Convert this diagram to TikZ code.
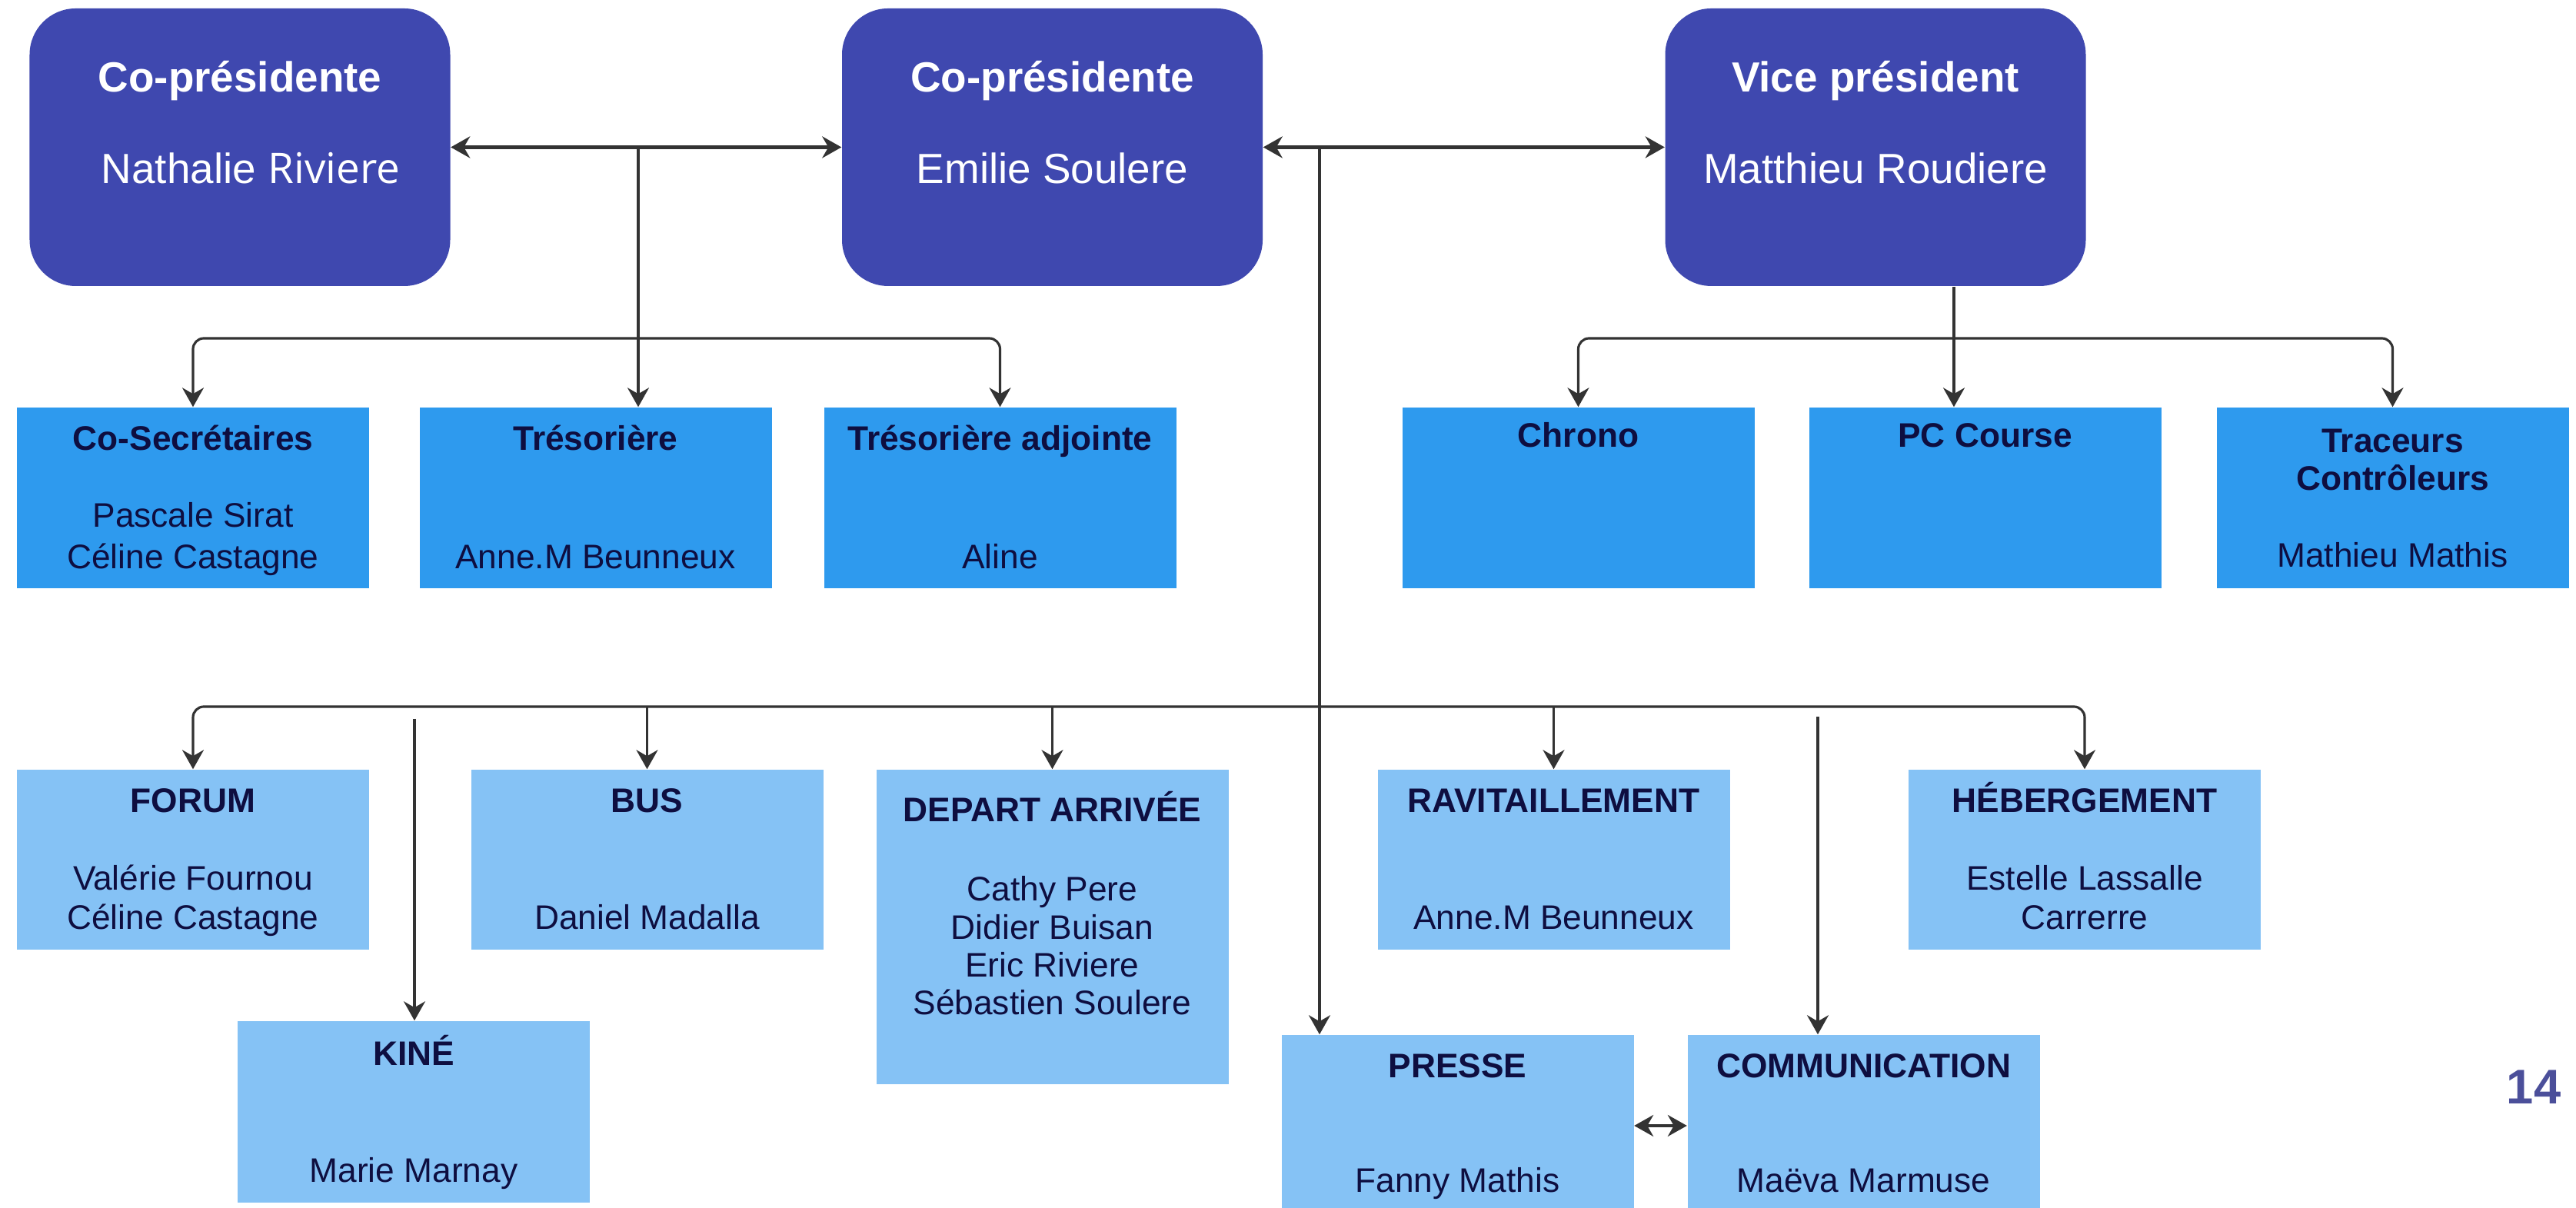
\documentclass[tikz,border=0pt]{standalone}
\usepackage{fontspec}
\setmainfont{Liberation Sans}
\newfontfamily\editfont{Open Sans}
\usepackage{tikz}
\usetikzlibrary{arrows.meta}
\definecolor{presblue}{HTML}{3F48AF}
\definecolor{rowblue}{HTML}{2E9AEE}
\definecolor{lightrow}{HTML}{85C2F5}
\definecolor{navy}{HTML}{0E0E40}
\definecolor{linegray}{HTML}{333333}
\definecolor{numcolor}{HTML}{4B4F9A}
\tikzset{
  presbox/.style={fill=presblue, rounded corners=0.6cm, minimum width=5.47cm, minimum height=3.61cm, inner sep=0pt},
  deptbox/.style={fill=rowblue, minimum width=4.58cm, minimum height=2.35cm, inner sep=0pt},
  teambox/.style={fill=lightrow, minimum width=4.58cm, minimum height=2.34cm, inner sep=0pt},
  txt/.style={inner sep=0pt, text height=1.5ex, text depth=.25ex},
  prestitle/.style={txt, text=white, font=\fontsize{15.6}{18}\selectfont\bfseries},
  prestxt/.style={txt, text=white, font=\fontsize{15.6}{18}\selectfont},
  rowtitle/.style={txt, text=navy, font=\fontsize{12.6}{15}\selectfont\bfseries},
  rowtxt/.style={txt, text=navy, font=\fontsize{12.6}{15}\selectfont},
  link/.style={draw=linegray, line width=0.9pt, -{Stealth[length=0.25cm,width=0.28cm,inset=0.08cm]}},
  duallink/.style={link, line width=1.2pt, {Stealth[length=0.25cm,width=0.28cm,inset=0.08cm]}-{Stealth[length=0.25cm,width=0.28cm,inset=0.08cm]}},
}

\begin{document}
\begin{tikzpicture}
\useasboundingbox (0,0) rectangle (33.5,15.71);
\fill[white] (0,0) rectangle (33.5,15.71);

\node[presbox] (nathalie) at (3.12, 13.795) {}; % Nathalie
\node[prestitle] (nathalieT) at (3.12, 14.63) {Co-présidente};
\node[prestxt] (nathalieN) at (3.26, 13.44) {Nathalie {\editfont Riviere}};
\node[presbox] (emilie) at (13.685, 13.795) {}; % Emilie
\node[prestitle] (emilieT) at (13.685, 14.63) {Co-présidente};
\node[prestxt] (emilieN) at (13.685, 13.44) {Emilie Soulere};
\node[presbox] (vice) at (24.39, 13.795) {}; % Vice
\node[prestitle] (viceT) at (24.39, 14.63) {Vice président};
\node[prestxt] (viceN) at (24.39, 13.44) {Matthieu Roudiere};

\node[deptbox] (cosec) at (2.51, 9.235) {}; % Co-Secretaires
\node[rowtitle] (cosecT) at (2.51, 9.97) {Co-Secrétaires};
\node[rowtxt] (cosecN1) at (2.51, 8.97) {Pascale Sirat};
\node[rowtxt] (cosecN2) at (2.51, 8.43) {Céline Castagne};
\node[deptbox] (tres) at (7.745, 9.235) {}; % Tresoriere
\node[rowtitle] (tresT) at (7.745, 9.97) {Trésorière};
\node[rowtxt] (tresN) at (7.745, 8.43) {Anne.M Beunneux};
\node[deptbox] (tresadj) at (13.005, 9.235) {}; % Tresoriere adjointe
\node[rowtitle] (tresadjT) at (13.005, 9.97) {Trésorière adjointe};
\node[rowtxt] (tresadjN) at (13.005, 8.43) {Aline};
\node[deptbox] (chrono) at (20.525, 9.235) {}; % Chrono
\node[rowtitle] (chronoT) at (20.525, 10.01) {Chrono};
\node[deptbox] (pccourse) at (25.815, 9.235) {}; % PC Course
\node[rowtitle] (pccourseT) at (25.815, 10.01) {PC Course};
\node[deptbox] (traceurs) at (31.115, 9.235) {}; % Traceurs
\node[rowtitle] (traceursT1) at (31.115, 9.94) {Traceurs};
\node[rowtitle] (traceursT2) at (31.115, 9.45) {Contrôleurs};
\node[rowtxt] (traceursN) at (31.115, 8.45) {Mathieu Mathis};

\node[teambox] (forum) at (2.51, 4.53) {}; % Forum
\node[rowtitle] (forumT) at (2.51, 5.26) {FORUM};
\node[rowtxt] (forumN1) at (2.51, 4.25) {Valérie Fournou};
\node[rowtxt] (forumN2) at (2.51, 3.74) {Céline Castagne};
\node[teambox] (bus) at (8.415, 4.53) {}; % Bus
\node[rowtitle] (busT) at (8.415, 5.26) {BUS};
\node[rowtxt] (busN) at (8.415, 3.74) {Daniel Madalla};
\node[teambox, minimum height=4.09cm] (depart) at (13.685, 3.655) {}; % Depart arrivee
\node[rowtitle] (departT) at (13.685, 5.14) {DEPART ARRIVÉE};
\node[rowtxt] (departN1) at (13.685, 4.11) {Cathy Pere};
\node[rowtxt] (departN2) at (13.685, 3.61) {Didier Buisan};
\node[rowtxt] (departN3) at (13.685, 3.12) {Eric Riviere};
\node[rowtxt] (departN4) at (13.685, 2.63) {Sébastien Soulere};
\node[teambox, minimum height=2.36cm] (kine) at (5.38, 1.25) {}; % Kine
\node[rowtitle] (kineT) at (5.38, 1.97) {KINÉ};
\node[rowtxt] (kineN) at (5.38, 0.45) {Marie Marnay};
\node[teambox] (ravit) at (20.205, 4.53) {}; % Ravitaillement
\node[rowtitle] (ravitT) at (20.205, 5.26) {RAVITAILLEMENT};
\node[rowtxt] (ravitN) at (20.205, 3.74) {Anne.M Beunneux};
\node[teambox] (heberg) at (27.11, 4.53) {}; % Hebergement
\node[rowtitle] (hebergT) at (27.11, 5.26) {HÉBERGEMENT};
\node[rowtxt] (hebergN1) at (27.11, 4.25) {Estelle Lassalle};
\node[rowtxt] (hebergN2) at (27.11, 3.74) {Carrerre};
\node[teambox, minimum height=2.36cm] (presse) at (18.955, 1.07) {}; % Presse
\node[rowtitle] (presseT) at (18.955, 1.81) {PRESSE};
\node[rowtxt] (presseN) at (18.955, 0.32) {Fanny Mathis};
\node[teambox, minimum height=2.36cm] (comm) at (24.235, 1.07) {}; % Communication
\node[rowtitle] (commT) at (24.235, 1.81) {COMMUNICATION};
\node[rowtxt] (commN) at (24.235, 0.32) {Maëva Marmuse};

\node[txt, text=numcolor, font=\fontsize{18}{20}\selectfont\bfseries] (pagenum) at (32.95, 1.47) {14}; % page

\coordinate (hubA) at (8.30, 13.79);
\coordinate (forkA) at (8.30, 11.31);
\coordinate (forkB) at (25.41, 11.31);
\coordinate (hubC) at (17.16, 13.79);
\coordinate (forkC) at (17.16, 6.52);
\coordinate (kineTop) at (5.39, 6.36);
\coordinate (commTop) at (23.64, 6.39);

\draw[duallink] (nathalie) -- (emilie); % co-presidents
\draw[duallink] (emilie) -- (vice); % vice
\draw[link] (hubA) -- (hubA |- tres.north);
\draw[link, rounded corners=4pt] (forkA) -| (cosec.north);
\draw[link, rounded corners=4pt] (forkA) -| (tresadj.north);
\draw[link] (vice.south -| forkB) -- (forkB |- pccourse.north);
\draw[link, rounded corners=4pt] (forkB) -| (chrono.north);
\draw[link, rounded corners=4pt] (forkB) -| (traceurs.north);
\draw[link] (hubC) -- (hubC |- presse.north);
\draw[link, rounded corners=4pt] (forkC) -| (forum.north);
\draw[link, rounded corners=4pt] (forkC) -| (heberg.north);
\draw[link] (bus.north |- forkC) -- (bus.north);
\draw[link] (depart.north |- forkC) -- (depart.north);
\draw[link] (ravit.north |- forkC) -- (ravit.north);
\draw[link] (kineTop) -- (kineTop |- kine.north);
\draw[link] (commTop) -- (commTop |- comm.north);
\draw[duallink, line width=0.9pt] (presse) -- (comm); % presse / communication

\end{tikzpicture}
\end{document}
